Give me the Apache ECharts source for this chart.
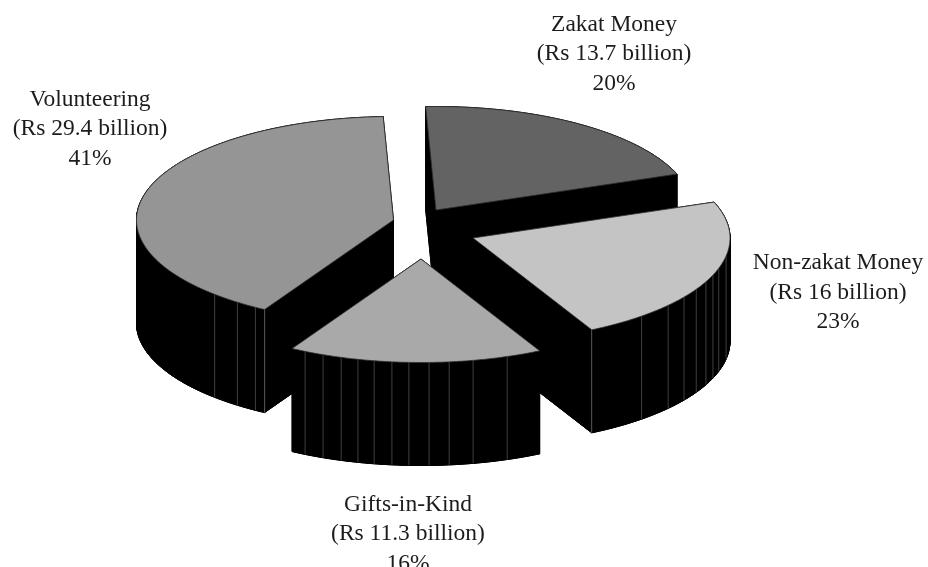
<!DOCTYPE html>
<html>
<head>
<meta charset="utf-8">
<style>html,body{margin:0;padding:0;background:#fff}#chart{width:928px;height:567px}</style>
<script src="https://cdn.jsdelivr.net/npm/echarts@6/dist/echarts.min.js"></script>
</head>
<body>
<div id="chart"></div>
<script>
// Slices run clockwise from the top of the pie.
const categories = ['Zakat Money', 'Non-zakat Money', 'Gifts-in-Kind', 'Volunteering'];
const billions = [13.7, 16, 11.3, 29.4];
const shares = [20, 23, 16, 41];

// Painter's order: back slices first.
const drawOrder = [3, 0, 1, 2];

// Projection of the tilted pie.
const RX = 257, RY = 103.5, DEPTH = 103;
const START_ANGLE = -2.3;

const sliceStyles = [
  { fill: '#636363', apex: [436, 210], label: [614, 54],  facets: [], corner: null },
  { fill: '#c4c4c4', apex: [473, 238], label: [838, 292.5], facets: [139, 130.6, 124.8, 119.7, 115, 111, 107, 100], corner: 'end' },
  { fill: '#a9a9a9', apex: [421, 259], label: [408, 534], facets: [160.4, 168.3, 173.7, 178.2, 182.7, 186.5, 190.5, 194.2, 198.1, 202.4, 206.8], corner: null },
  { fill: '#959595', apex: [393.5, 220], label: [90, 129],  facets: [212.5, 217.4, 224.1], corner: 'start' }
];

// Start angle of every slice, accumulated from the shares.
const total = shares.reduce((a, b) => a + b, 0);
const startAngles = [];
shares.reduce((acc, s, i) => {
  startAngles[i] = acc;
  return acc + (s / total) * 360;
}, START_ANGLE);

function rimPoint(apex, deg) {
  const r = (deg * Math.PI) / 180;
  return [apex[0] + RX * Math.sin(r), apex[1] - RY * Math.cos(r)];
}

function seam(p, color) {
  return {
    type: 'line', silent: true,
    shape: { x1: p[0], y1: p[1], x2: p[0], y2: p[1] + DEPTH },
    style: { stroke: color, lineWidth: 1 }
  };
}

function renderSlice(params, api) {
  const i = api.value(0);
  const style = sliceStyles[i];
  const a0 = startAngles[i];
  const a1 = a0 + (api.value(1) / total) * 360;
  const apex = style.apex;

  const rim = [];
  const steps = Math.ceil((a1 - a0) * 2);
  for (let k = 0; k <= steps; k++) rim.push(rimPoint(apex, a0 + ((a1 - a0) * k) / steps));
  const outline = [apex].concat(rim);
  const down = (p) => [p[0], p[1] + DEPTH];

  const children = [];
  const black = { fill: '#000', stroke: '#000', lineWidth: 1 };

  // Extruded body: floor plus one quad per outline edge.
  children.push({ type: 'polygon', shape: { points: outline.map(down) }, style: black, silent: true });
  outline.forEach((p, k) => {
    const q = outline[(k + 1) % outline.length];
    children.push({ type: 'polygon', shape: { points: [p, q, down(q), down(p)] }, style: black, silent: true });
  });

  // Facet seams on the visible rim, and the lighter seam at a radial corner.
  style.facets.forEach((deg) => children.push(seam(rimPoint(apex, deg), '#3f3f3f')));
  if (style.corner) {
    children.push(seam(rimPoint(apex, style.corner === 'end' ? a1 : a0), '#5a5a5a'));
  }

  // Top face.
  children.push({
    type: 'polygon', silent: true,
    shape: { points: outline },
    style: { fill: style.fill, stroke: '#2e2e2e', lineWidth: 0.8, lineJoin: 'miter' }
  });

  // Three-line caption: name, amount, share.
  children.push({
    type: 'text', silent: true,
    style: {
      x: style.label[0], y: style.label[1],
      text: categories[i] + '\n(Rs ' + api.value(2) + ' billion)\n' + api.value(1) + '%',
      fill: '#1c1c1c',
      fontFamily: '"Liberation Serif", serif',
      fontSize: 23.5,
      lineHeight: 29.5,
      align: 'center',
      verticalAlign: 'middle'
    }
  });

  return { type: 'group', children };
}

const chart = echarts.init(document.getElementById('chart'));
chart.setOption({
  animation: false,
  backgroundColor: '#fff',
  series: [{
    type: 'custom',
    coordinateSystem: 'none',
    clip: false,
    renderItem: renderSlice,
    data: drawOrder.map((i) => [i, shares[i], billions[i]]),
    dimensions: ['slice', 'share', 'billions']
  }]
});
</script>
</body>
</html>
